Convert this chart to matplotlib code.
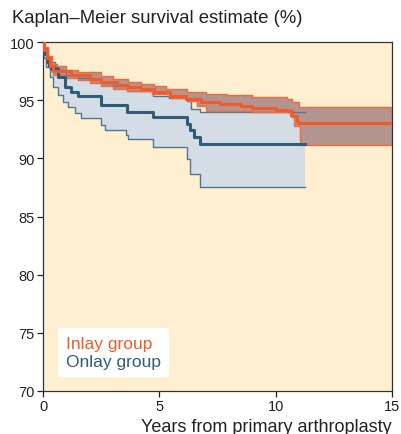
import numpy as np
import matplotlib
matplotlib.use("Agg")
import matplotlib.pyplot as plt
from matplotlib.lines import Line2D

plt.rcParams["font.family"] = ["Liberation Sans", "DejaVu Sans"]

# Inlay group: Kaplan-Meier estimate with 95% CI (step points)
inlay_t = [0, 0.05, 0.15, 0.3, 0.43, 1.2, 2.0, 2.5, 3.2, 3.65, 4.2, 4.75, 5.45, 6.15,
           6.8, 7.6, 8.5, 9.0, 10.0, 10.5, 10.7, 10.9, 10.97, 15]
inlay_s = [100, 99.3, 98.6, 97.9, 97.55, 97.15, 96.85, 96.57, 96.3, 96.14, 95.95, 95.7,
           95.4, 95.1, 94.85, 94.7, 94.5, 94.3, 94.15, 94.05, 93.67, 93.24, 93.0, 93.0]

inlay_up_t = [0, 0.05, 0.2, 0.4, 0.6, 1.0, 1.5, 2.5, 3.0, 3.65, 4.2, 4.75, 5.3, 6.2,
              7.0, 7.9, 9.0, 10.5, 10.7, 11.0, 15]
inlay_up_s = [100, 99.6, 98.8, 98.1, 97.9, 97.6, 97.4, 97.1, 96.85, 96.6, 96.4, 96.25,
              96.0, 95.7, 95.55, 95.45, 95.26, 95.1, 94.83, 94.45, 94.45]

inlay_lo_t = [0, 0.05, 0.15, 0.3, 0.45, 1.0, 1.5, 2.0, 2.5, 3.0, 3.6, 4.7, 5.5, 6.2,
              6.6, 7.0, 9.0, 10.6, 10.8, 11.05, 15]
inlay_lo_s = [100, 99.0, 98.2, 97.6, 97.2, 96.9, 96.7, 96.5, 96.2, 96.0, 95.8, 95.5,
              95.2, 94.95, 94.5, 94.1, 94.0, 93.6, 92.8, 91.17, 91.17]

# Onlay group
onlay_t = [0, 0.05, 0.15, 0.25, 0.36, 0.64, 0.93, 1.22, 1.5, 2.5, 3.62, 4.74, 6.17,
           6.3, 6.5, 6.75, 11.26]
onlay_s = [100, 99.0, 98.3, 97.9, 97.7, 97.0, 96.14, 95.7, 95.33, 94.57, 93.98, 93.55,
           92.97, 92.4, 91.8, 91.23, 91.23]

onlay_up_t = [0, 0.05, 0.21, 0.36, 0.5, 0.64, 1.0, 1.5, 2.0, 2.5, 3.0, 3.6, 4.74, 5.4,
              6.17, 6.35, 6.75, 11.26]
onlay_up_s = [100, 99.5, 98.7, 98.3, 97.86, 97.57, 97.2, 96.95, 96.7, 96.45, 96.2, 95.8,
              95.4, 95.2, 94.97, 94.26, 93.98, 93.98]

onlay_lo_t = [0, 0.05, 0.14, 0.29, 0.43, 0.64, 0.86, 1.07, 1.36, 1.65, 2.5, 2.65, 3.58,
              3.67, 4.74, 6.17, 6.3, 6.75, 11.26]
onlay_lo_s = [100, 98.6, 97.86, 97.0, 96.14, 95.43, 94.86, 94.4, 93.86, 93.5, 92.86,
              92.43, 92.0, 91.7, 90.97, 89.97, 88.68, 87.5, 87.5]

x_ticks = [0, 5, 10, 15]
y_ticks = [70, 75, 80, 85, 90, 95, 100]

orange = "#f15a29"
blue = "#2e5d78"
blue_ci = "#4d7891"
orange_ci = "#f26a3c"


def band(t_up, s_up, t_lo, s_lo):
    # union of the step times so both bounds share the same grid
    grid = np.unique(np.concatenate([t_up, t_lo]))
    up = np.array(s_up)[np.searchsorted(t_up, grid, side="right") - 1]
    lo = np.array(s_lo)[np.searchsorted(t_lo, grid, side="right") - 1]
    return grid, up, lo


fig = plt.figure(figsize=(4.02, 4.35), dpi=100)
ax = fig.add_axes([0.107, 0.099, 0.868, 0.802])
ax.set_facecolor("#fdefd0")

g, u, l = band(onlay_up_t, onlay_up_s, onlay_lo_t, onlay_lo_s)
ax.fill_between(g, l, u, step="post", color="#d4dde6", lw=0, zorder=1)
g, u, l = band(inlay_up_t, inlay_up_s, inlay_lo_t, inlay_lo_s)
ax.fill_between(g, l, u, step="post", color="#b3948f", lw=0, zorder=2)

ax.step(onlay_up_t, onlay_up_s, where="post", color=blue_ci, lw=1.0, zorder=3)
ax.step(onlay_lo_t, onlay_lo_s, where="post", color=blue_ci, lw=1.0, zorder=3)
ax.step(inlay_up_t, inlay_up_s, where="post", color=orange_ci, lw=1.0, zorder=4)
ax.step(inlay_lo_t, inlay_lo_s, where="post", color=orange_ci, lw=1.0, zorder=4)
ax.step(onlay_t, onlay_s, where="post", color=blue, lw=2.2, zorder=5)
ax.step(inlay_t, inlay_s, where="post", color=orange, lw=2.2, zorder=6)

ax.set_xlim(0, 15)
ax.set_ylim(70, 100)
ax.set_xticks(x_ticks)
ax.set_yticks(y_ticks)
ax.tick_params(labelsize=10.5, length=4, width=0.9, colors="#222222", pad=2)
for s in ax.spines.values():
    s.set_color("#333333")
    s.set_linewidth(0.9)

handles = [Line2D([], [], lw=0), Line2D([], [], lw=0)]
leg = ax.legend(handles, ["Inlay group", "Onlay group"], loc="lower left",
                bbox_to_anchor=(0.043, 0.04), borderaxespad=0, fontsize=12.5,
                labelcolor=[orange, blue], handlelength=0, handletextpad=0,
                borderpad=0.45, labelspacing=0.15, fancybox=False, framealpha=1)
leg.get_frame().set_edgecolor("white")
leg.get_frame().set_linewidth(0)

fig.text(0.03, 0.958, "Kaplan–Meier survival estimate (%)", fontsize=13.3,
         color="#222222", va="center", ha="left")
fig.text(0.975, 0.006, "Years from primary arthroplasty", fontsize=13,
         color="#222222", va="baseline", ha="right")

fig.savefig("out.png", dpi=100)
